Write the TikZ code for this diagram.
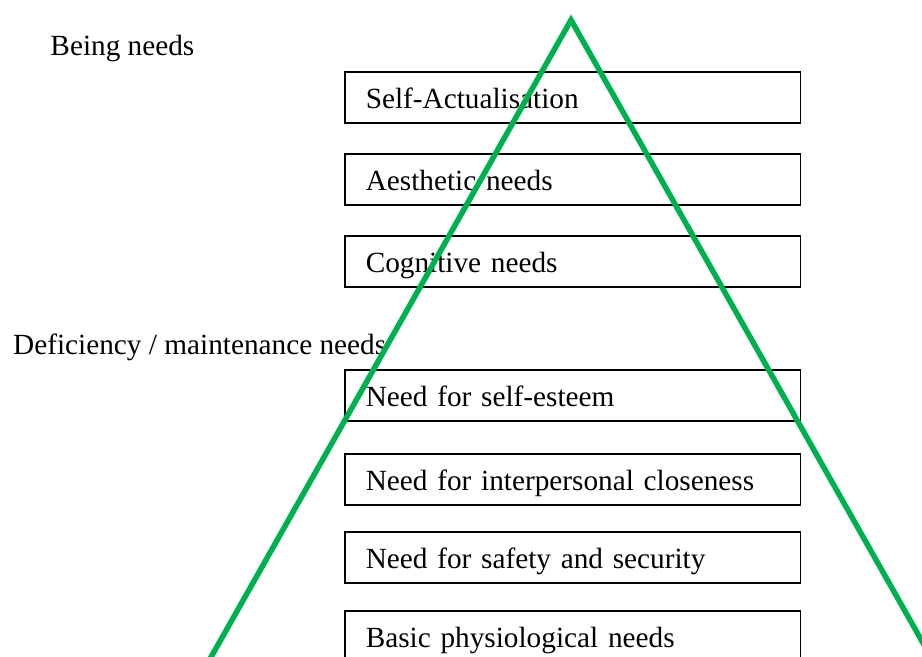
\documentclass[tikz,border=0pt]{standalone}
\usepackage{fontspec}
\setmainfont{Liberation Serif}
\definecolor{pyrgreen}{RGB}{0,176,80}
\begin{document}
\begin{tikzpicture}[x=0.41pt,y=-0.41pt]
        \tikzstyle{need}=[rectangle,draw=black,line width=0.65pt,anchor=north west,
          text width=169.7pt,inner xsep=8.6pt,inner ysep=0pt,align=left,
          minimum height=20.9pt,text height=1.1em,text depth=0.2em,font=\fontsize{12}{14}\selectfont]
        \tikzstyle{group}=[anchor=base west,inner sep=0pt,font=\fontsize{12}{14}\selectfont]
        \tikzstyle{pyramid}=[draw=pyrgreen,line width=2.25pt,line join=miter]

       \useasboundingbox (0,0) rectangle (922,656);
       \clip (0,0) rectangle (922,656);

       \begin{scope}

         \node [group] (being) at (50,55.5) {Being needs};
         \node [group] (deficiency) at (12.7,354) {Deficiency / maintenance needs};

         \node [need] (selfact) at (344,71) {Self-Actualisation};
         \node [need] (aesthetic) at (344,153) {Aesthetic needs};
         \node [need] (cognitive) at (344,235) {Cognitive needs};
         \node [need] (esteem) at (344,369) {Need for self-esteem};
         \node [need] (closeness) at (344,453) {Need for interpersonal closeness};
         \node [need] (safety) at (344,531) {Need for safety and security};
         \node [need] (basic) at (344,610) {Basic physiological needs};

         % the pyramid, its base runs off the page
         \coordinate (apex) at (571,20);
         \coordinate (baseleft) at (175.5,720);
         \coordinate (baseright) at (966.5,720);
         \draw [pyramid] (baseleft) -- (apex) -- (baseright) -- cycle;

        \end{scope}
      \end{tikzpicture}
\end{document}
